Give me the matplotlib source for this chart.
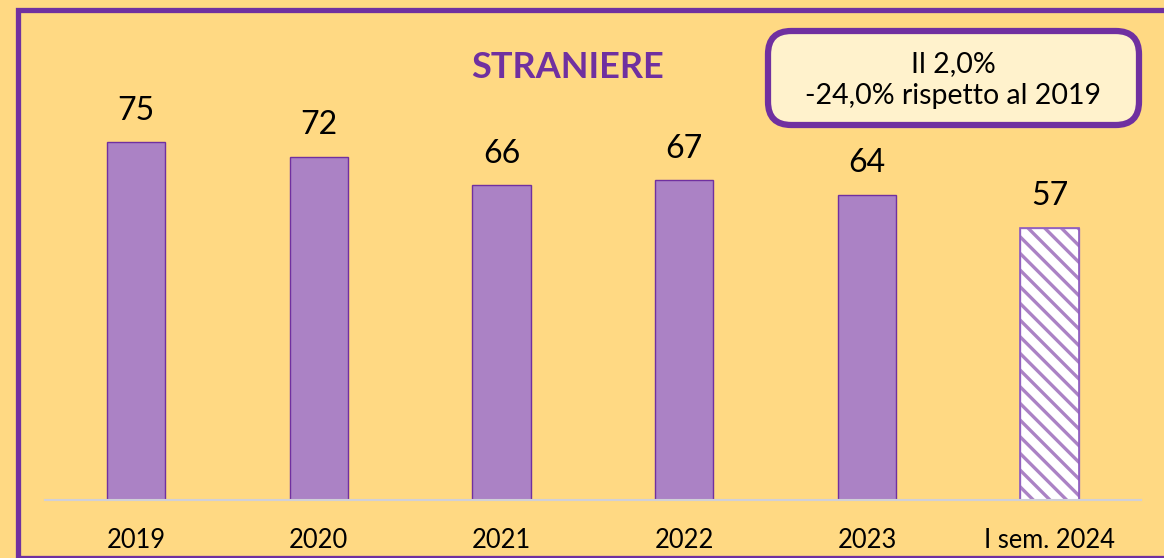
import matplotlib
matplotlib.use("Agg")
import matplotlib.pyplot as plt
from matplotlib.patches import Rectangle, FancyBboxPatch

categories = ["2019", "2020", "2021", "2022", "2023", "I sem. 2024"]
values = [75, 72, 66, 67, 64, 57]
title = "STRANIERE"
box_text = "Il 2,0%\n-24,0% rispetto al 2019"

BG = "#FFD983"
PURPLE = "#7030A0"
BAR = "#AB82C5"

plt.rcParams['font.family'] = ['Lato', 'DejaVu Sans']
plt.rcParams['hatch.linewidth'] = 2.4
plt.rcParams['hatch.color'] = BAR

W, H = 1164, 558
fig = plt.figure(figsize=(W / 100, H / 100), dpi=100, facecolor=BG)

def fx(px):
    return px / W

def fy(py):
    return 1 - py / H

ax_left, ax_right, ax_base = 44.7, 1141.0, 500.0
ymax = 90
ax_top = ax_base - ymax * 4.77
ax = fig.add_axes([fx(ax_left), fy(ax_base), fx(ax_right - ax_left), (ax_base - ax_top) / H])
ax.set_facecolor(BG)
ax.patch.set_alpha(0)

x = list(range(len(categories)))
bars = ax.bar(x, values, width=0.32, color=BAR, edgecolor=PURPLE, linewidth=1.0, zorder=3)
last = bars[-1]
last.set_facecolor("white")
last.set_hatch("\\\\")
last.set_edgecolor(BAR)
# purple outline over hatched bar
ax.bar([x[-1]], [values[-1]], width=0.32, fill=False, edgecolor="#8E5CC0", linewidth=1.2, zorder=4)

for xi, v in zip(x, values):
    ax.annotate(f"{v}", (xi, v), xytext=(0, 12), textcoords="offset points",
                ha="center", va="bottom", fontsize=23, color="black")

ax.set_xlim(-0.5, len(categories) - 0.5)
ax.set_ylim(0, ymax)
ax.set_xticks(x)
ax.set_xticklabels(categories, fontsize=18.4, color="black")
ax.tick_params(axis='x', length=0, pad=20)
ax.set_yticks([])
for s in ["top", "right", "left"]:
    ax.spines[s].set_visible(False)
ax.spines["bottom"].set_color("#D0D0D8")
ax.spines["bottom"].set_linewidth(1.5)
ax.spines["bottom"].set_zorder(5)

# title
fig.text(fx(568), fy(68), title, ha="center", va="center", fontsize=26,
         fontweight="bold", color=PURPLE)

# outer frame
frame = Rectangle((fx(17.5), fy(557.5)), fx(1175 - 17.5), (557.5 - 9.5) / H,
                  transform=fig.transFigure, fill=False, edgecolor=PURPLE,
                  linewidth=3.8, clip_on=False)
fig.patches.append(frame)

# info box
bx0, by0, bx1, by1 = 768, 31, 1139, 125
box = FancyBboxPatch((fx(bx0), fy(by1)), fx(bx1 - bx0), (by1 - by0) / H,
                     boxstyle="round,pad=0,rounding_size=0.02",
                     transform=fig.transFigure, facecolor="#FFF2CC",
                     edgecolor=PURPLE, linewidth=4.5, mutation_aspect=W / H)
fig.patches.append(box)
fig.text(fx(953), fy(80), box_text, ha="center", va="center", fontsize=20.5,
         color="black", linespacing=1.25)

fig.savefig("out.png", dpi=100, facecolor=BG)
